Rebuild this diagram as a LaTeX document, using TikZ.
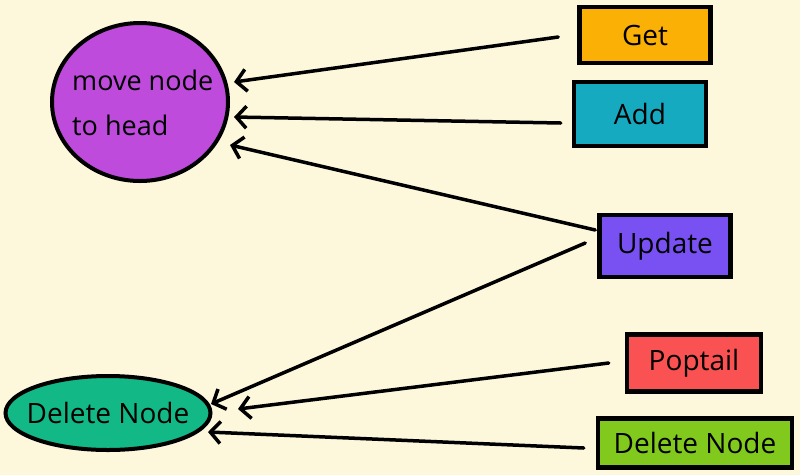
\documentclass[tikz,border=0pt]{standalone}
\usepackage{fontspec}
\setmainfont{Open Sans}
\usetikzlibrary{arrows.meta,shapes.geometric,calc}
\definecolor{bgc}{HTML}{FDF8DC}
\definecolor{cget}{HTML}{FAB005}
\definecolor{cadd}{HTML}{15AABF}
\definecolor{cupd}{HTML}{7950F2}
\definecolor{cpop}{HTML}{FA5252}
\definecolor{cdel}{HTML}{82C91E}
\definecolor{cmove}{HTML}{BE4BDB}
\definecolor{cdeln}{HTML}{12B886}
\tikzset{
  txt/.style={font=\fontsize{28}{32}\selectfont},
  box/.style={draw=black, line width=4.5pt, rectangle, inner sep=0pt, txt},
  blob/.style={draw=black, line width=4pt, ellipse, inner sep=0pt},
  arr/.style={line width=3.5pt, line cap=round, -{Straight Barb[length=10pt,width=22pt,line width=3.5pt]}},
}
\begin{document}
\begin{tikzpicture}[x=1pt,y=-1pt]
\fill[bgc] (0,0) rectangle (800,475);
\useasboundingbox (0,0) rectangle (800,475);
% nodes
\node[blob, fill=cmove, minimum width=176pt, minimum height=158pt] (mv) at (140,102) {};
\node[font=\fontsize{27}{45}\selectfont, align=left, anchor=west, inner sep=0pt] (mvt) at (72,103) {move node\\to head};
\node[blob, fill=cdeln, minimum width=205pt, minimum height=74pt] (dn) at (108,413) {};
\node[txt, inner sep=0pt] (dnt) at (108,413) {Delete Node};
\node[box, fill=cget, minimum width=131pt, minimum height=56pt] (get) at (645,35) {Get};
\node[box, fill=cadd, minimum width=132pt, minimum height=64pt] (add) at (640,114) {Add};
\node[box, fill=cupd, minimum width=131pt, minimum height=62pt] (upd) at (665,246) {Update};
\node[box, fill=cpop, minimum width=134pt, minimum height=57pt] (pop) at (694,363) {Poptail};
\node[box, fill=cdel, minimum width=194pt, minimum height=49pt] (del) at (695,443) {Delete Node};
% arrow tips
\coordinate (t1) at (234,82);
\coordinate (t2) at (234,117);
\coordinate (t3) at (230,145);
\coordinate (t4) at (211,404);
\coordinate (t5) at (238,409);
\coordinate (t6) at (208,432);
% connectors
\draw[arr] ($(get.west)+(-19,2)$) -- (t1);
\draw[arr] ($(add.west)+(-11,9)$) -- (t2);
\draw[arr] ($(upd.west)+(-2,-16)$) -- (t3);
\draw[arr] ($(upd.west)+(-12,-3)$) -- (t4);
\draw[arr] ($(pop.west)+(-16,0)$) -- (t5);
\draw[arr] ($(del.west)+(-12,5)$) -- (t6);
\end{tikzpicture}
\end{document}
